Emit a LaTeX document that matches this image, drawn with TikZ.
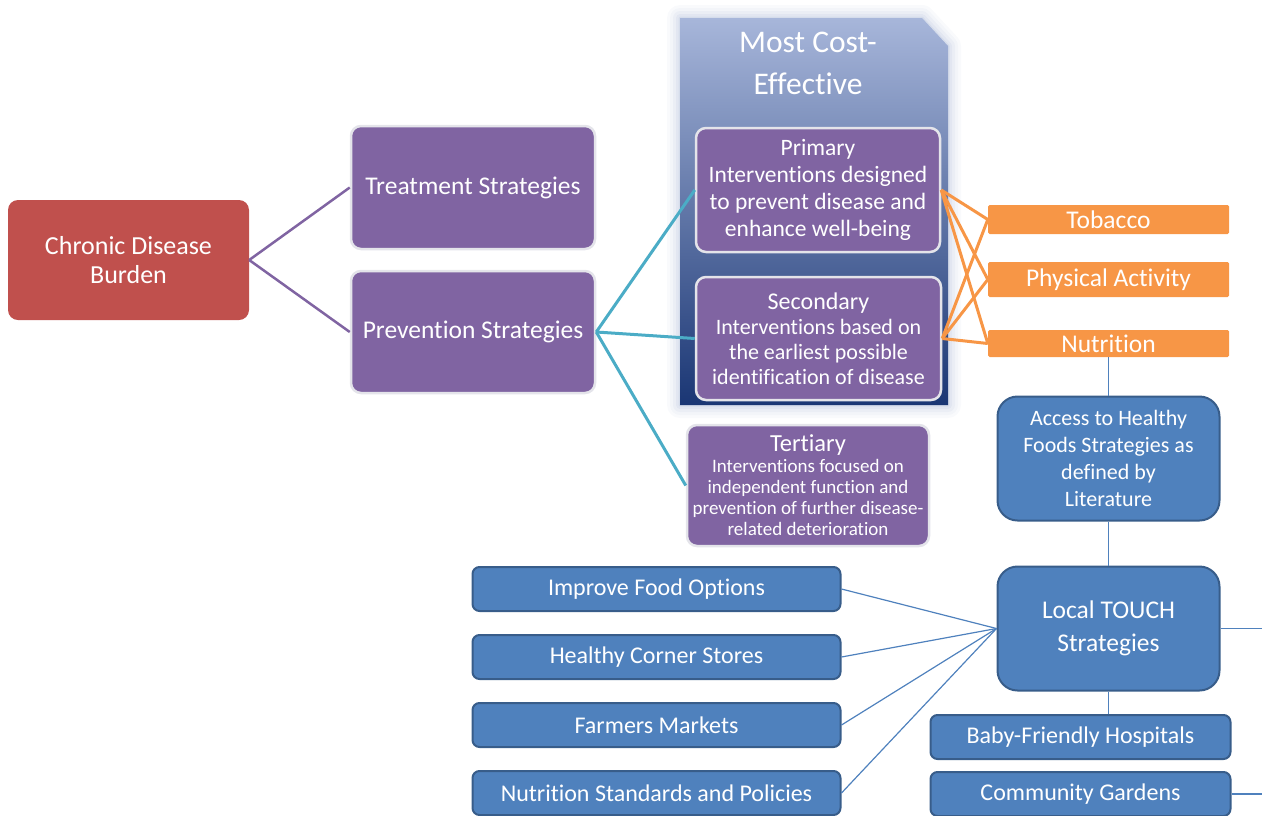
\documentclass[tikz,border=0pt]{standalone}
\usepackage{fontspec}
\setmainfont{Carlito}[Ligatures=NoCommon]
\usepackage{tikz}
\usetikzlibrary{positioning}

\definecolor{burdenred}{HTML}{C0504D}
\definecolor{stratpurple}{HTML}{8064A2}
\definecolor{boxrim}{HTML}{E4E4EA}
\definecolor{preventcyan}{HTML}{4BACC6}
\definecolor{riskorange}{HTML}{F79646}
\definecolor{touchblue}{HTML}{4F81BD}
\definecolor{touchrim}{HTML}{385D8A}
\definecolor{paneltop}{HTML}{A7B6DA}
\definecolor{panelmid}{HTML}{5C79B0}
\definecolor{panelbot}{HTML}{1A3674}
\definecolor{panelhalo}{HTML}{8EA0C8}

\newcommand{\fs}[2]{\fontsize{#1}{#2}\selectfont}

\begin{document}
\begin{tikzpicture}[x=1pt,y=1pt,yscale=-1,xscale=1,
	box/.style={text=white, align=center, inner sep=0pt},
	redbox/.style={box, rounded corners=10pt, fill=burdenred, font=\fs{26}{29}},
	purplebox/.style={box, rounded corners=10pt, fill=stratpurple, draw=boxrim, line width=2.5pt, font=\fs{23.5}{27}},
	riskbox/.style={box, rounded corners=1.5pt, fill=riskorange, minimum width=241pt, font=\fs{25.5}{26}},
	bigblue/.style={box, rounded corners=20pt, fill=touchblue, draw=touchrim, line width=2pt, minimum width=222pt, minimum height=124pt},
	listblue/.style={box, rounded corners=7pt, fill=touchblue, draw=touchrim, line width=2pt, minimum height=44pt, font=\fs{24}{26}},
	burdenline/.style={stratpurple, line width=2.5pt},
	preventline/.style={preventcyan, line width=3pt},
	riskline/.style={riskorange, line width=3pt},
	touchline/.style={touchblue, line width=1.2pt}]
	\useasboundingbox (0,0) rectangle (1262,815);
	\clip (0,0) rectangle (1262,815);

	%Most cost-effective panel (soft glow + shading)
	\foreach \w/\o in {26/0.05,20/0.06,14/0.08,8/0.1,3/0.15}
		\draw [panelhalo, line width=\w pt, opacity=\o, line join=round] (680,18) -- (922,18) -- (948,46) -- (948,405) -- (680,405) -- cycle;
	\shade [top color=paneltop, middle color=panelmid, bottom color=panelbot] (680,18) -- (922,18) -- (948,46) -- (948,405) -- (680,405) -- cycle;
	\node [box, font=\fs{31.5}{42}] (costnote) at (808,63) {Most Cost-\\Effective};

	%Left part
	\node [redbox, minimum width=241pt, minimum height=120pt] (burden) at (128.5,260) {Chronic Disease\\Burden};
	\node [purplebox, minimum width=244pt, minimum height=123pt, font=\fs{25.5}{27}] (treat) at (473,187.5) {Treatment Strategies};
	\node [purplebox, minimum width=244pt, minimum height=122pt, font=\fs{25.5}{27}] (prevent) at (473,332) {Prevention Strategies};

	%Prevention levels
	\node [purplebox, minimum width=244pt, minimum height=124pt] (primary) at (818,190)
		{Primary\\Interventions designed\\to prevent disease and\\enhance well-being};
	\node [purplebox, minimum width=245pt, minimum height=123pt, font=\fs{22}{25}] (secondary) at (818.5,338.5)
		{{\fs{24}{25}Secondary}\\Interventions based on\\the earliest possible\\identification of disease};
	\node [purplebox, minimum width=242pt, minimum height=121pt, font=\fs{19}{21}] (tertiary) at (808,485.5)
		{{\fs{24.5}{24}Tertiary}\\Interventions focused on\\independent function and\\prevention of further disease-\\related deterioration};

	%Risk factors
	\node [riskbox, minimum height=29pt] (tobacco) at (1108.5,219.5) {Tobacco};
	\node [riskbox, minimum height=35pt] (physical) at (1108.5,279.5) {Physical Activity};
	\node [riskbox, minimum height=27pt] (nutrition) at (1108.5,343.5) {Nutrition};

	%TOUCH strategies
	\node [bigblue, font=\fs{22}{27}] (access) at (1108.5,458.5) {Access to Healthy\\Foods Strategies as\\defined by\\Literature};
	\node [bigblue, font=\fs{25.5}{33}] (local) at (1108.5,628.5) {Local TOUCH\\Strategies};
	\node [listblue, minimum width=300pt] (baby) at (1080.5,737) {Baby-Friendly Hospitals};
	\node [listblue, minimum width=300pt] (garden) at (1080.5,794) {Community Gardens};
	\node [listblue, minimum width=368pt] (improve) at (656.5,589) {Improve Food Options};
	\node [listblue, minimum width=368pt] (corner) at (656.5,657) {Healthy Corner Stores};
	\node [listblue, minimum width=368pt] (farmers) at (656.5,725) {Farmers Markets};
	\node [listblue, minimum width=368pt] (standards) at (656.5,793) {Nutrition Standards and Policies};
	\coordinate (localout) at (1262,628.5);
	\coordinate (gardenout) at (1262,794);

	%Connectors
	\draw [burdenline] (burden.east) -- (treat.west);
	\draw [burdenline] (burden.east) -- (prevent.west);
	\foreach \lvl in {primary,secondary,tertiary}
		\draw [preventline] (prevent.east) -- (\lvl.west);
	\foreach \lvl in {primary,secondary}
		\foreach \risk in {tobacco,physical,nutrition}
			\draw [riskline] (\lvl.east) -- (\risk.west);
	\draw [touchline] (nutrition.south) -- (access.north);
	\draw [touchline] (access.south) -- (local.north);
	\draw [touchline] (local.south) -- (local.south |- baby.north);
	\draw [touchline] (local.east) -- (localout);
	\draw [touchline] (garden.east) -- (gardenout);
	\foreach \item in {improve,corner,farmers,standards}
		\draw [touchline] (\item.east) -- (local.west);

\end{tikzpicture}
\end{document}
